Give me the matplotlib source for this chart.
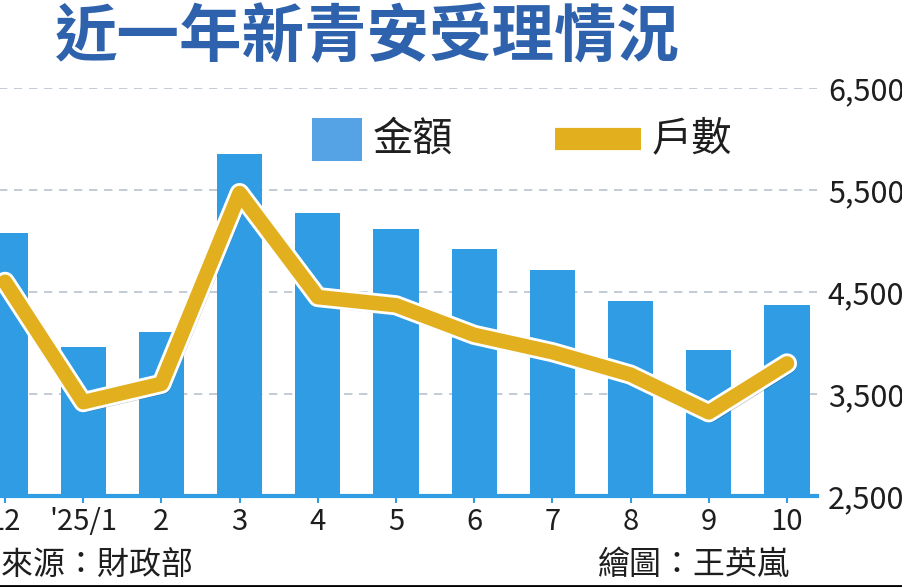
import matplotlib
matplotlib.use("Agg")
import matplotlib.pyplot as plt
import matplotlib.patheffects as pe
from matplotlib.patches import Rectangle
from matplotlib.lines import Line2D
import numpy as np

plt.rcParams['font.family'] = ['Noto Sans CJK TC', 'DejaVu Sans']

# 月份（左側被裁切，第一根是 24/12）
months = ["12", "'25/1", "2", "3", "4", "5", "6", "7", "8", "9", "10"]
# 金額（柱狀，依可見刻度估讀）
amount = [5080, 3960, 4110, 5850, 5270, 5120, 4920, 4720, 4410, 3930, 4370]
# 戶數（折線）
households = [4600, 3420, 3600, 5470, 4450, 4370, 4080, 3910, 3690, 3320, 3800]
yticks = [2500, 3500, 4500, 5500, 6500]

BAR_COLOR = '#2f9ce3'
LINE_COLOR = '#e2b01f'
TITLE_COLOR = '#2e62ad'
TEXT_COLOR = '#1e1e1e'

W, H = 903, 587
fig = plt.figure(figsize=(W / 100, H / 100), dpi=100)

# x=0 對應像素 5，間距 78.2；左側刻意超出畫面
x_left, x_right = -0.6, 10.38
px0 = 5 + x_left * 78.2
px1 = 5 + x_right * 78.2
ax = fig.add_axes([px0 / W, (H - 496) / H, (px1 - px0) / W, (496 - 88) / H])

x = np.arange(len(months))
ax.bar(x, np.array(amount) - 2500, bottom=2500, width=0.58, color=BAR_COLOR, zorder=2)

ax.plot(x, households, color=LINE_COLOR, lw=10.5, solid_joinstyle='round',
        solid_capstyle='round', zorder=4,
        path_effects=[pe.SimpleLineShadow(offset=(1.5, -2), alpha=0.25, shadow_color='black'),
                      pe.Stroke(linewidth=14.5, foreground='white'), pe.Normal()])

ax.set_xlim(x_left, x_right)
ax.set_ylim(2500, 6500)
ax.set_yticks(yticks)
ax.set_yticklabels([f'{v:,}' for v in yticks])
ax.yaxis.tick_right()
ax.set_xticks(x)
ax.set_xticklabels(months)

for v in yticks[1:]:
    ax.axhline(v, color='#b9c4cf', lw=1.2, ls=(0, (5, 4)), zorder=1)

for s in ['top', 'left', 'right']:
    ax.spines[s].set_visible(False)
ax.spines['bottom'].set_color(BAR_COLOR)
ax.spines['bottom'].set_linewidth(3)
ax.spines['bottom'].set_zorder(3)

ax.tick_params(axis='x', length=5, width=1.5, color=BAR_COLOR, labelsize=21,
               labelcolor=TEXT_COLOR, pad=3)
ax.tick_params(axis='y', length=0, labelsize=22, labelcolor=TEXT_COLOR, pad=8)

# 圖例（手繪位置）
fig.add_artist(Rectangle((312 / W, 1 - 161 / H), 50 / W, 43 / H,
                         transform=fig.transFigure, facecolor='#55a2e4', edgecolor='none'))
fig.text(373 / W, 1 - 139 / H, '金額', fontsize=29, color=TEXT_COLOR, va='center', ha='left')
fig.add_artist(Line2D([555 / W, 641 / W], [1 - 139 / H, 1 - 139 / H],
                      transform=fig.transFigure, color=LINE_COLOR, lw=16,
                      solid_capstyle='butt'))
fig.text(652 / W, 1 - 139 / H, '戶數', fontsize=29, color=TEXT_COLOR, va='center', ha='left')

fig.text(55 / W, 1 - 38 / H, '近一年新青安受理情況', color=TITLE_COLOR,
         fontsize=45, fontweight='bold', va='center', ha='left')

fig.text(193 / W, 1 - 565 / H, '資料來源：財政部', fontsize=23, color=TEXT_COLOR,
         ha='right', va='center')
fig.text(598 / W, 1 - 565 / H, '繪圖：王英嵐', fontsize=23, color=TEXT_COLOR,
         ha='left', va='center')

# 截圖底部的黑邊
fig.add_artist(Line2D([0, 1], [1 / H, 1 / H], transform=fig.transFigure,
                      color='black', lw=2))

fig.savefig('out.png', dpi=100, facecolor='white')
